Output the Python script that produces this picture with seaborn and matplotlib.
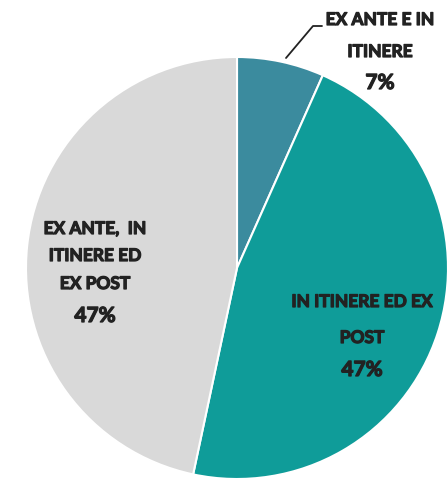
import matplotlib
matplotlib.use("Agg")
import matplotlib.pyplot as plt
import matplotlib.patheffects as pe
import seaborn as sns
from matplotlib import font_manager

sns.set_style("white")

labels = ["EX ANTE E IN\nITINERE", "IN ITINERE ED EX\nPOST", "EX ANTE,  IN\nITINERE ED\nEX POST"]
values = [1/15, 7/15, 7/15]
pct_labels = ["7%", "47%", "47%"]
colors = ["#3b8b9e", "#0f9c99", "#d9d9d9"]

avail = {f.name for f in font_manager.fontManager.ttflist}
fam = "Lato" if "Lato" in avail else "DejaVu Sans"
plt.rcParams["font.family"] = [fam, "DejaVu Sans"]

W, H = 447, 493
fig = plt.figure(figsize=(W/100, H/100), dpi=100)
cx, cy, r = 237, 268, 211
ax = fig.add_axes([(cx - r)/W, (H - cy - r)/H, 2*r/W, 2*r/H])
ax.pie(values, colors=colors, startangle=90, counterclock=False, radius=1,
       wedgeprops=dict(edgecolor="white", linewidth=1.5))
ax.set_xlim(-1, 1)
ax.set_ylim(-1, 1)
ax.set_aspect("equal")
ax.axis("off")

def fx(px):
    return px / W
def fy(py):
    return 1 - py / H

tc = "#222222"
fs, fsp = 12.5, 15
eff = [pe.withStroke(linewidth=0.9, foreground=tc)]

def t(x, y, s, size):
    fig.text(fx(x), fy(y), s, ha="center", va="center", fontsize=size,
             weight="bold", color=tc, path_effects=eff)

# slice 1 label (outside with leader)
t(380, 20, "EX ANTE E IN", fs)
t(380, 52, "ITINERE", fs)
t(380, 83, pct_labels[0], fsp)
fig.add_artist(plt.Line2D([fx(286), fx(313), fx(322)], [fy(58), fy(26), fy(26)],
                          color="#222222", linewidth=1.3, transform=fig.transFigure))

# slice 2 label
t(362, 302, "IN ITINERE ED EX", fs)
t(362, 338, "POST", fs)
t(362, 370, pct_labels[1], fsp)

# slice 3 label
t(95, 229, "EX ANTE,  IN", fs)
t(95, 256, "ITINERE ED", fs)
t(95, 284, "EX POST", fs)
t(95, 316, pct_labels[2], fsp)

fig.savefig("out.png", dpi=100, facecolor="white")
